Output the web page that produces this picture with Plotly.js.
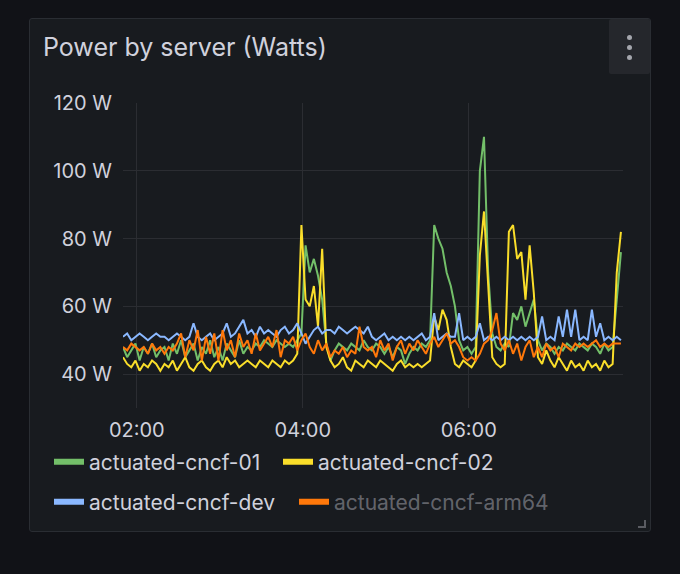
<!DOCTYPE html>
<html>
<head>
<meta charset="utf-8">
<script src="https://cdn.plot.ly/plotly-3.0.1.min.js"></script>
<style>
  html, body { margin:0; padding:0; background:#111217; width:680px; height:574px; overflow:hidden; }
  #panel { position:absolute; left:29px; top:18px; width:620px; height:512px; background:#181b1f; border:1px solid #2a2d33; border-radius:3px; }
  #menu { position:absolute; left:609px; top:19px; width:41px; height:55px; background:#25272c; border-radius:2px; }
  .dot { position:absolute; left:18px; width:5px; height:5px; border-radius:50%; background:#a4a6ad; }
  #resize { position:absolute; left:638px; top:520px; width:6px; height:6px; border-right:2px solid #5a5c62; border-bottom:2px solid #5a5c62; }
  #chart { position:absolute; left:0; top:0; width:680px; height:574px; }
</style>
</head>
<body>
<div id="panel"></div>
<div id="menu"><div class="dot" style="top:16px"></div><div class="dot" style="top:26px"></div><div class="dot" style="top:36px"></div></div>
<div id="resize"></div>
<div id="chart"></div>
<script>
// time axis: first sample and step (minutes)
const startDate = '2023-06-01';
const startMinutes = 110;   // 01:50
const stepMinutes = 3;

const seriesNames = ['actuated-cncf-01', 'actuated-cncf-02', 'actuated-cncf-dev', 'actuated-cncf-arm64'];

const cncf01 = [
  48,45,47,49,44,48,46,49,45,47,
  48,44,49,46,50,45,47,49,44,48,
  46,50,45,48,44,49,47,45,50,46,
  48,47,49,48,50,49,48,50,49,48,
  49,48,50,52,78,70,74,69,62,49,
  44,47,49,48,47,49,48,47,50,48,
  47,49,48,46,48,45,48,47,43,46,
  48,47,49,48,50,84,80,77,70,66,
  60,50,47,48,46,48,100,110,70,52,
  48,47,49,48,58,56,60,54,58,62,
  50,47,49,48,46,48,47,49,48,47,
  49,48,47,49,48,46,49,47,48,62,76
];

const cncf02 = [
  45,43,42,44,41,43,42,44,43,41,
  43,42,44,41,43,45,42,41,43,44,
  42,41,43,44,42,45,43,44,42,43,
  44,43,42,44,43,42,44,43,42,44,
  43,44,46,84,62,60,66,54,77,48,
  44,42,43,45,42,41,44,43,42,44,
  43,42,44,43,42,41,43,44,42,43,
  42,43,42,43,44,57,53,59,56,48,
  43,42,44,43,42,44,75,88,68,45,
  43,42,43,82,84,74,76,62,78,64,
  45,43,47,44,42,45,43,41,44,42,
  43,41,44,42,43,41,44,42,43,70,82
];

const cncfDev = [
  51,52,50,51,52,51,50,51,52,51,
  51,50,51,52,51,50,51,55,51,50,
  51,52,50,51,52,55,51,52,54,56,
  52,53,51,54,52,53,52,51,53,54,
  52,53,55,52,49,51,53,54,52,53,
  53,52,54,53,52,53,54,53,52,54,
  51,50,51,52,50,51,50,51,50,51,
  50,51,52,50,51,58,50,51,52,51,
  51,58,50,51,50,51,55,50,51,50,
  51,50,51,50,51,50,51,50,51,50,
  51,57,50,51,50,57,51,59,51,59,
  50,51,50,59,51,55,50,51,50,51,50
];

const cncfArm = [
  48,47,49,48,47,48,46,49,47,48,
  46,48,47,49,52,45,50,47,53,44,
  51,46,52,44,53,47,50,45,52,48,
  50,46,52,47,49,51,48,53,45,50,
  49,51,47,50,52,48,46,50,47,49,
  45,47,46,48,45,47,46,54,48,47,
  48,45,50,47,49,44,48,50,46,49,
  47,50,48,46,49,51,48,50,52,49,
  50,48,45,44,45,44,46,49,50,53,
  58,49,47,50,46,49,44,48,50,45,
  48,45,49,47,48,45,49,48,47,49,
  48,49,48,49,50,48,49,48,49,49,49
];

const seriesValues = [cncf01, cncf02, cncfDev, cncfArm];
const seriesColors = ['#73BF69', '#FADE2A', '#8AB8FF', '#FF780A'];

const xTickVals = ['2023-06-01 02:00', '2023-06-01 04:00', '2023-06-01 06:00'];
const xTickText = ['02:00', '04:00', '06:00'];
const yTickVals = [40, 60, 80, 100, 120];
const yTickText = ['40 W', '60 W', '80 W', '100 W', '120 W'];

function pad(n) { return (n < 10 ? '0' : '') + n; }
function timeAt(i) {
  const m = startMinutes + i * stepMinutes;
  return startDate + ' ' + pad(Math.floor(m / 60)) + ':' + pad(m % 60) + ':00';
}

const traces = [];
seriesValues.forEach((vals, k) => {
  traces.push({
    type: 'scatter', mode: 'lines',
    x: vals.map((_, i) => timeAt(i)), y: vals,
    name: seriesNames[k],
    line: { color: seriesColors[k], width: 2 },
    showlegend: false, hoverinfo: 'skip'
  });
});
// legend entries (thick swatches)
seriesNames.forEach((nm, k) => {
  traces.push({
    type: 'scatter', mode: 'lines', x: [null], y: [null],
    name: nm, line: { color: seriesColors[k], width: 6 },
    showlegend: true, legend: k === 0 ? 'legend' : 'legend' + (k + 1), hoverinfo: 'skip'
  });
});

const FONT = 'Inter, "Open Sans", sans-serif';
const legendFont = { family: FONT, size: 21, color: '#d0d1dc' };
function mkLegend(px, py, color) {
  return {
    xref: 'container', yref: 'container',
    x: px / 680, y: 1 - py / 574, xanchor: 'left', yanchor: 'middle',
    orientation: 'h', bgcolor: 'rgba(0,0,0,0)', borderwidth: 0,
    font: Object.assign({}, legendFont, color ? { color: color } : {}),
    itemclick: false, itemdoubleclick: false
  };
}

const layout = {
  width: 680, height: 574,
  paper_bgcolor: 'rgba(0,0,0,0)', plot_bgcolor: 'rgba(0,0,0,0)',
  margin: { l: 123, r: 57, t: 103, b: 166 },
  font: { family: FONT, color: '#ccccdc' },
  title: {
    text: 'Power by server (Watts)',
    xref: 'container', yref: 'container',
    x: 43 / 680, y: 1 - 47 / 574, xanchor: 'left', yanchor: 'middle',
    font: { family: FONT, size: 25, color: '#d0d1dc', weight: 400 }
  },
  xaxis: {
    type: 'date',
    range: ['2023-06-01 01:50:00', '2023-06-01 07:51:30'],
    tickmode: 'array', tickvals: xTickVals, ticktext: xTickText,
    showgrid: true, gridcolor: '#2b2d32', gridwidth: 1,
    zeroline: false, showline: false, ticks: '',
    ticklabelstandoff: 8,
    tickfont: { family: FONT, size: 20, color: '#d0d1dc' }
  },
  yaxis: {
    range: [30, 120],
    tickmode: 'array', tickvals: yTickVals, ticktext: yTickText,
    showgrid: true, gridcolor: '#2b2d32', gridwidth: 1,
    zeroline: false, showline: false, ticks: '',
    ticklabelstandoff: 10,
    tickfont: { family: FONT, size: 20, color: '#d0d1dc' }
  },
  legend: mkLegend(49, 462),
  legend2: mkLegend(278, 462),
  legend3: mkLegend(49, 502),
  legend4: mkLegend(294, 502, 'rgba(220,220,230,0.4)'),
  hovermode: false
};

Plotly.newPlot('chart', traces, layout, { displayModeBar: false, staticPlot: true });
</script>
</body>
</html>
